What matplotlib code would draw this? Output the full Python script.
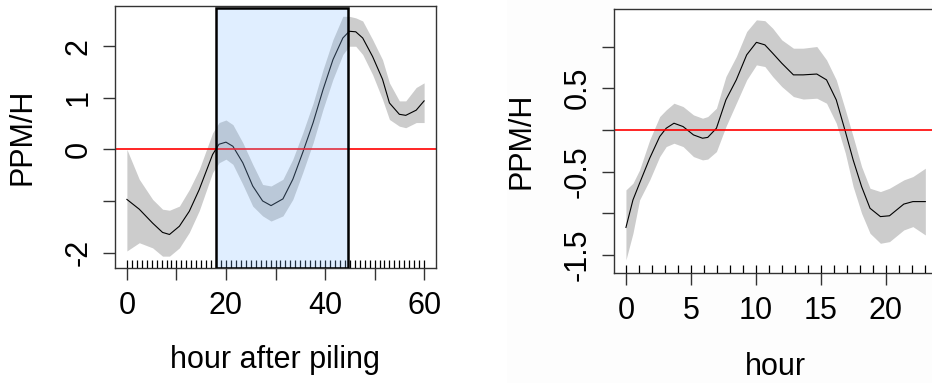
import matplotlib
matplotlib.use("Agg")
from matplotlib import pyplot as plt
import matplotlib.patches as mpatches

plt.rcParams['font.family'] = ['Liberation Sans', 'DejaVu Sans']

# left panel: effect vs hour after piling
piling_hour = [0, 2.5, 5.2, 7.2, 8.6, 10.6, 12.6, 14.6, 17.3, 18.6, 20, 21.4, 23.4, 25.4, 27.4, 29.1,
               31.5, 33.5, 35.5, 37.6, 39.6, 41.6, 43.6, 44.9, 46.2, 47.6, 49.6, 51.6, 53, 55, 56.3,
               58.4, 60]
piling_fit = [-0.97, -1.16, -1.43, -1.61, -1.65, -1.49, -1.20, -0.78, -0.10, 0.10, 0.14, 0.06, -0.26,
              -0.71, -1.00, -1.09, -0.96, -0.58, -0.06, 0.52, 1.16, 1.74, 2.16, 2.29, 2.28, 2.16, 1.80,
              1.36, 0.90, 0.68, 0.66, 0.76, 0.94]
piling_upper = [0.0, -0.58, -0.97, -1.16, -1.18, -1.10, -0.78, -0.39, 0.32, 0.52, 0.57, 0.48, 0.13,
                -0.29, -0.68, -0.71, -0.58, -0.19, 0.32, 0.90, 1.55, 2.13, 2.58, 2.58, 2.55, 2.49, 2.13,
                1.74, 1.29, 0.94, 0.94, 1.20, 1.29]
piling_lower = [-1.97, -1.81, -1.91, -2.07, -2.07, -1.91, -1.61, -1.19, -0.45, -0.26, -0.19, -0.29,
                -0.68, -1.10, -1.29, -1.39, -1.29, -0.97, -0.45, 0.13, 0.78, 1.36, 1.84, 2.00, 2.00,
                1.84, 1.45, 0.97, 0.58, 0.45, 0.42, 0.52, 0.52]
piling_rug = list(range(0, 61))
piling_window = (18, 44.6)

# right panel: effect vs hour of day
day_hour = [0, 0.54, 1.05, 1.83, 2.6, 3.1, 3.7, 4.4, 5.2, 5.9, 6.3, 6.97, 7.7, 8.5, 9.3, 10.05, 10.7,
            11.3, 12, 12.9, 13.65, 14.7, 15.45, 16.2, 16.9, 17.5, 18.15, 18.8, 19.6, 20.3, 21.4, 22.1,
            23.06]
day_fit = [-1.17, -0.84, -0.64, -0.34, -0.08, 0.02, 0.08, 0.04, -0.06, -0.10, -0.09, 0.02, 0.36, 0.60,
           0.90, 1.05, 1.02, 0.92, 0.80, 0.66, 0.66, 0.67, 0.60, 0.36, -0.02, -0.36, -0.68, -0.94,
           -1.04, -1.03, -0.89, -0.86, -0.86]
day_upper = [-0.72, -0.64, -0.48, -0.12, 0.16, 0.24, 0.32, 0.28, 0.18, 0.14, 0.16, 0.26, 0.64, 0.88,
             1.18, 1.32, 1.31, 1.22, 1.08, 0.98, 0.98, 1.00, 0.84, 0.60, 0.24, -0.08, -0.44, -0.70,
             -0.74, -0.70, -0.60, -0.56, -0.46]
day_lower = [-1.56, -1.24, -0.84, -0.60, -0.32, -0.20, -0.16, -0.20, -0.32, -0.36, -0.35, -0.26,
             0.04, 0.32, 0.60, 0.78, 0.76, 0.64, 0.52, 0.40, 0.37, 0.38, 0.32, 0.08, -0.28, -0.68,
             -1.00, -1.24, -1.36, -1.34, -1.20, -1.16, -1.26]
day_rug = list(range(0, 24))

W, H = 932, 383
FS = 22
fig = plt.figure(figsize=(W / 100, H / 100), dpi=100)
fig.add_artist(mpatches.Rectangle((507 / W, 0), 1, 1, transform=fig.transFigure,
                                  facecolor='#fdfdfd', edgecolor='none', zorder=-10))


def style_axes(ax):
    for s in ax.spines.values():
        s.set_linewidth(1.0)
        s.set_color('#333333')
    ax.tick_params(direction='out', length=8.6, width=1.0, color='#333333',
                   labelsize=FS, pad=7)
    ax.tick_params(axis='x', pad=8)
    for lab in ax.get_yticklabels():
        lab.set_rotation(90)
        lab.set_verticalalignment('center')


def rug(ax, xs):
    ax.vlines(xs, 0, 0.032, transform=ax.get_xaxis_transform(), color='black', lw=0.9, zorder=3)


# ---- left
ax1 = fig.add_axes([115 / W, 1 - 268 / H, 321 / W, 262 / H])
ax1.fill_between(piling_hour, piling_lower, piling_upper, color='#cccccc', lw=0, zorder=1)
ax1.plot(piling_hour, piling_fit, color='black', lw=0.8, zorder=2)
rug(ax1, piling_rug)
ax1.axhline(0, color='red', lw=1.2, zorder=2.5)
ax1.add_patch(mpatches.Rectangle((piling_window[0], -2.30), piling_window[1] - piling_window[0],
                                 2.75 + 2.30, facecolor=(0.53, 0.75, 1.0, 0.25),
                                 edgecolor='black', lw=1.8, zorder=4))
ax1.set_xlim(-2.4, 62.4)
ax1.set_ylim(-2.30, 2.78)
ax1.set_xticks([0, 10, 20, 30, 40, 50, 60])
ax1.set_xticklabels(['0', '', '20', '', '40', '', '60'])
ax1.set_yticks([-2, -1, 0, 1, 2])
ax1.set_yticklabels(['-2', '', '0', '1', '2'])
style_axes(ax1)
ax1.set_ylabel('PPM/H', fontsize=FS)
ax1.set_xlabel('hour after piling', fontsize=FS)
ax1.yaxis.set_label_coords(-0.287, 0.5)
ax1.yaxis.label.set_verticalalignment('center')
ax1.xaxis.set_label_coords(0.498, -0.351)
ax1.xaxis.label.set_verticalalignment('center')

# ---- right
ax2 = fig.add_axes([614 / W, 1 - 273.3 / H, 322.5 / W, 264.3 / H])
ax2.set_facecolor('white')
ax2.fill_between(day_hour, day_lower, day_upper, color='#cccccc', lw=0, zorder=1)
ax2.plot(day_hour, day_fit, color='black', lw=0.8, zorder=2)
rug(ax2, day_rug)
ax2.axhline(0, color='red', lw=1.2, zorder=2.5)
ax2.set_xlim(-0.92, 23.92)
ax2.set_ylim(-1.72, 1.45)
ax2.set_xticks([0, 5, 10, 15, 20])
ax2.set_yticks([-1.5, -1.0, -0.5, 0, 0.5, 1.0])
ax2.set_yticklabels(['-1.5', '', '-0.5', '', '0.5', ''])
style_axes(ax2)
ax2.set_ylabel('PPM/H', fontsize=FS)
ax2.set_xlabel('hour', fontsize=FS)
ax2.yaxis.set_label_coords(-0.286, 0.5)
ax2.yaxis.label.set_verticalalignment('center')
ax2.xaxis.set_label_coords(0.5, -0.354)
ax2.xaxis.label.set_verticalalignment('center')

fig.savefig('out.png', dpi=100)
